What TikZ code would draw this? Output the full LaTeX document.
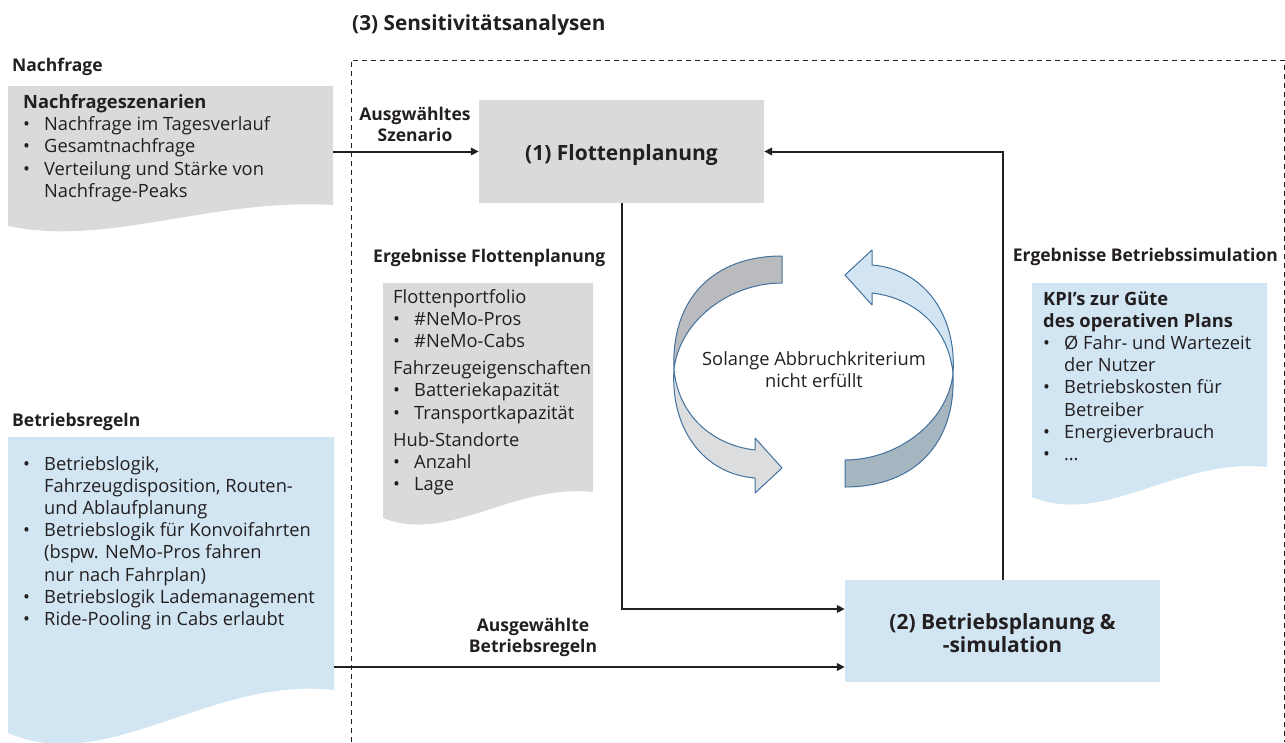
\documentclass[tikz,border=0pt]{standalone}
\usepackage{fontspec}
\setmainfont{Open Sans}
\usetikzlibrary{arrows.meta,calc}

\definecolor{txt}{HTML}{231F20}
\definecolor{docgray}{HTML}{D9DADB}
\definecolor{docblue}{HTML}{D2E5F3}
\definecolor{ringline}{HTML}{41719C}
\definecolor{ringdark}{HTML}{B9BBBE}
\definecolor{ringlight}{HTML}{DCDDDF}
\definecolor{ringblue}{HTML}{D3E5F3}
\definecolor{ringslate}{HTML}{A6B6C1}

% bullet and hanging indent for list lines
\newcommand\bul{\makebox[21pt][l]{•}}
\newcommand\ind{\hspace*{21pt}}

% document shape with a wavy lower edge
% #1 fill, #2 left x, #3 top y, #4 right x, #5 lower right y, #6 lower left y
\newcommand\wavedoc[6]{%
  \fill[#1] (#2,#3) -- (#4,#3) -- (#4,#5)
    .. controls ({#4-0.38*(#4-#2)},{#5-0.33*(#6-#5)})
           and ({#2+0.31*(#4-#2)},{#6+1.0*(#6-#5)}) .. (#2,#6) -- cycle;}

% halves of the circular cycle arrow
\newcommand\ringtail{(782,256) -- (782,283)
  .. controls (730,283) and (680,320) .. (674,369)
  .. controls (671,300) and (712,256) .. (782,256) -- cycle}
\newcommand\ringhead{(674,369)
  .. controls (678,415) and (712,445) .. (755,450)
  -- (755,438) -- (782,468) -- (755,493) -- (755,478)
  .. controls (703,474) and (670,428) .. (674,369) -- cycle}

\begin{document}
\begin{tikzpicture}[x=1pt,y=-1pt,
  body/.style={anchor=base west, inner sep=0pt, text=txt,
    font=\fontsize{18.3}{22.2}\selectfont},
  heading/.style={anchor=base west, inner sep=0pt, text=txt,
    font=\bfseries\fontsize{17.5}{21}\selectfont},
  arrlabel/.style={anchor=base, inner sep=0pt, text=txt,
    font=\bfseries\fontsize{17.5}{21}\selectfont},
  stepbox/.style={inner sep=0pt},
  steplabel/.style={anchor=base, inner sep=0pt, text=txt,
    font=\bfseries\fontsize{21}{23.5}\selectfont},
  arr/.style={draw=txt, line width=2pt,
    -{Triangle[length=8pt,width=7.5pt]}},
  frame/.style={draw=txt, line width=1pt, dash pattern=on 5pt off 4pt},
  ring/.style={draw=ringline, line width=1pt, line join=round}]

\useasboundingbox (0,0) rectangle (1285,742);

% sensitivity analysis frame
\node[heading, font=\bfseries\fontsize{20.8}{24}\selectfont] (ttl) at (352,30) {(3) Sensitivitätsanalysen};
\draw[frame] (351,742) -- (351,60) -- (1284,60) -- (1284,742);

% demand input
\node[heading] (hnf) at (12,71) {Nachfrage};
\wavedoc{docgray}{8}{86}{333}{205}{226}
\node[body] (tnf) at (23,108.5) {\begin{tabular}[t]{@{}l@{}}
  \textbf{Nachfrageszenarien}\\
  \bul Nachfrage im Tagesverlauf\\
  \bul Gesamtnachfrage\\
  \bul Verteilung und Stärke von\\
  \ind Nachfrage-Peaks
\end{tabular}};
\coordinate (nfout) at (333,151.5);

% operating rules input
\node[heading] (hbr) at (12,426.7) {Betriebsregeln};
\wavedoc{docblue}{8}{437}{334}{690}{733}
\node[body] (tbr) at (23,470) {\begin{tabular}[t]{@{}l@{}}
  \bul Betriebslogik,\\
  \ind Fahrzeugdisposition, Routen-\\
  \ind und Ablaufplanung\\
  \bul Betriebslogik für Konvoifahrten\\
  \ind (bspw. NeMo-Pros fahren\\
  \ind nur nach Fahrplan)\\
  \bul Betriebslogik Lademanagement\\
  \bul Ride-Pooling in Cabs erlaubt
\end{tabular}};
\coordinate (brout) at (334,667);

% main steps
\node[stepbox, fill=docgray, minimum width=285pt, minimum height=103pt]
  (box1) at (621.5,151.5) {};
\node[steplabel] (lbox1) at ([yshift=-8.5pt]box1.center) {(1) Flottenplanung};
\node[stepbox, fill=docblue, minimum width=315pt, minimum height=102pt]
  (box2) at (1002.5,631) {};
\node[steplabel] (lbox2) at ([yshift=2pt]box2.center)
  {\begin{tabular}[t]{@{}c@{}}(2) Betriebsplanung \&\\-simulation\end{tabular}};

% fleet planning results
\node[heading] (hfp) at (373,262) {Ergebnisse Flottenplanung};
\wavedoc{docgray}{383}{283}{593}{492}{518}
\node[body] (tfp) at (393,303) {\begin{tabular}[t]{@{}l@{}}
  Flottenportfolio\\
  \bul \#NeMo-Pros\\
  \bul \#NeMo-Cabs\\[5pt]
  Fahrzeugeigenschaften\\
  \bul Batteriekapazität\\
  \bul Transportkapazität\\[5pt]
  Hub-Standorte\\
  \bul Anzahl\\
  \bul Lage
\end{tabular}};

% simulation results
\node[heading] (hbs) at (1012.7,261.7) {Ergebnisse Betriebssimulation};
\wavedoc{docblue}{1032}{283}{1267}{467}{497}
\node[body] (tbs) at (1043,305) {\begin{tabular}[t]{@{}l@{}}
  \textbf{KPI’s zur Güte}\\
  \textbf{des operativen Plans}\\
  \bul Ø Fahr- und Wartezeit\\
  \ind der Nutzer\\
  \bul Betriebskosten für\\
  \ind Betreiber\\
  \bul Energieverbrauch\\
  \bul …
\end{tabular}};

% iteration cycle
\filldraw[ring, fill=ringdark] \ringtail;
\filldraw[ring, fill=ringlight] \ringhead;
\begin{scope}[rotate around={180:(813.5,371.5)}]
  \filldraw[ring, fill=ringslate] \ringtail;
  \filldraw[ring, fill=ringblue] \ringhead;
\end{scope}
\node[body, anchor=base] (loop) at (814,365) {\begin{tabular}[t]{@{}c@{}}
  Solange Abbruchkriterium\\ nicht erfüllt
\end{tabular}};

% connectors
\draw[arr] (nfout) -- (nfout -| box1.west);
\node[arrlabel] (lsz) at (415,120.7) {\begin{tabular}[t]{@{}c@{}}Ausgwähltes\\Szenario\end{tabular}};
\draw[arr] (box1.south) |- ([yshift=22pt]box2.west);
\draw[arr] (box2.north) |- (box1.east);
\draw[arr] (brout) -- (brout -| box2.west);
\node[arrlabel] (lbr) at (533,631.7) {\begin{tabular}[t]{@{}c@{}}Ausgewählte\\Betriebsregeln\end{tabular}};

\end{tikzpicture}
\end{document}
